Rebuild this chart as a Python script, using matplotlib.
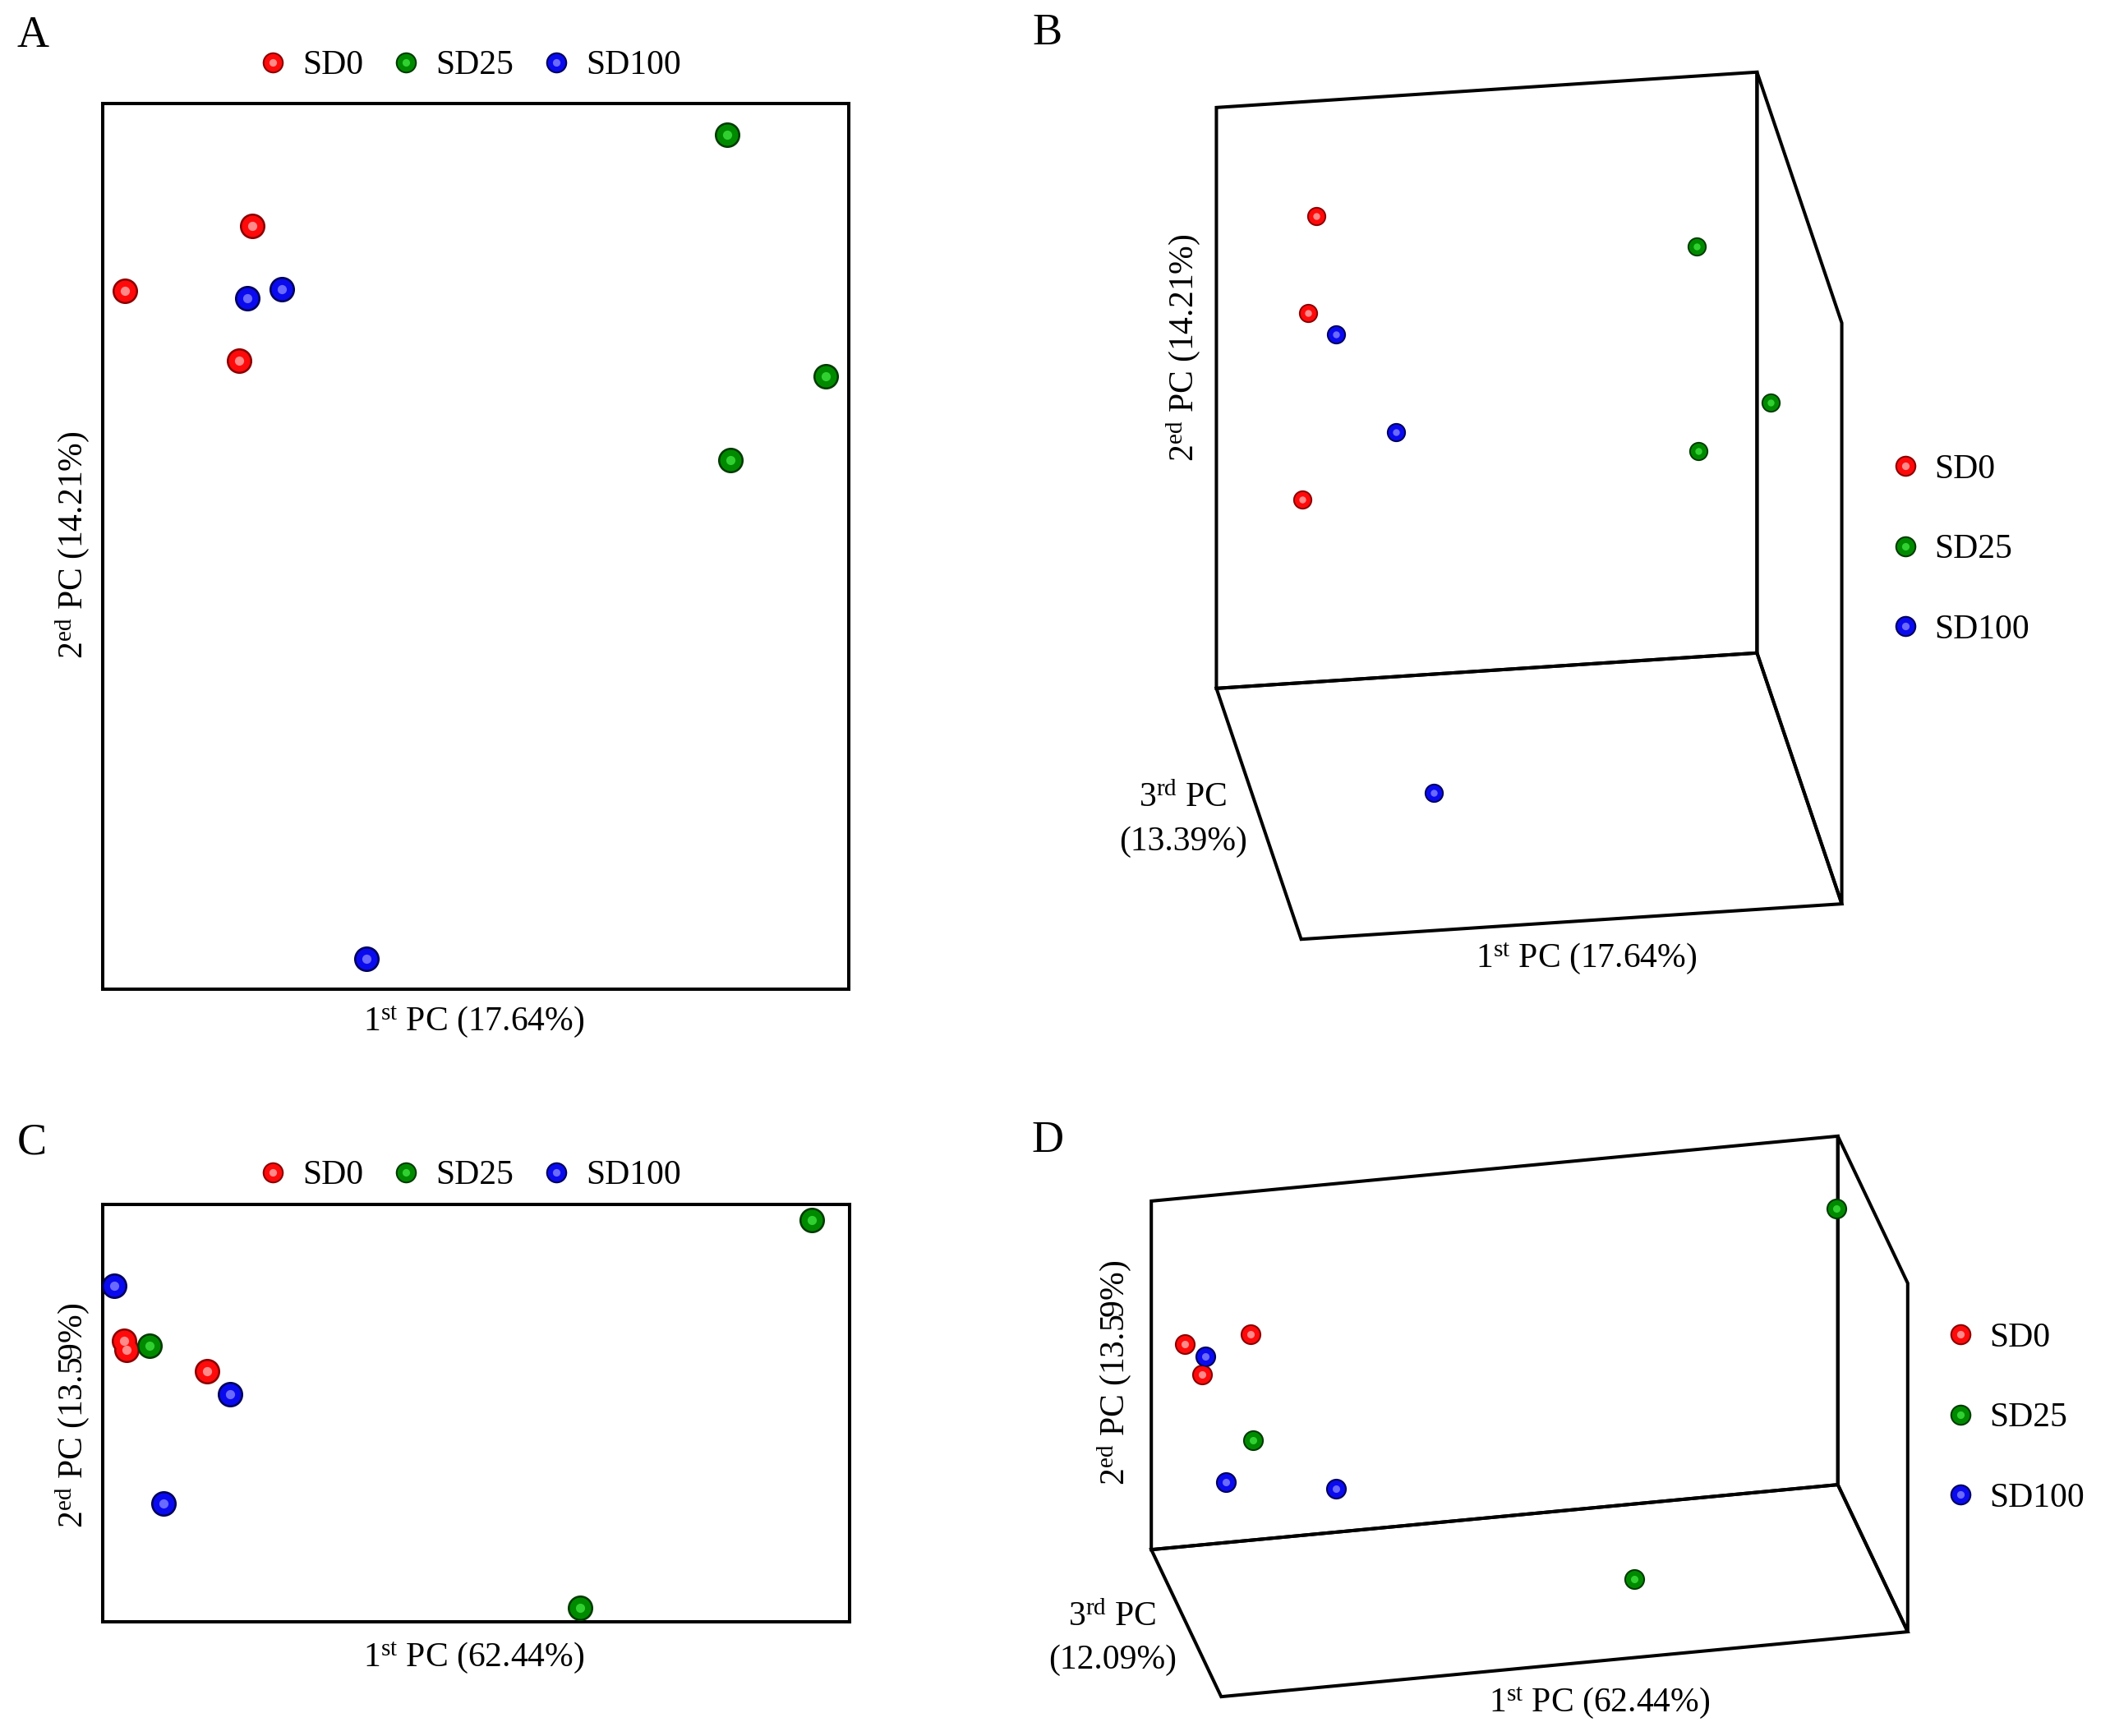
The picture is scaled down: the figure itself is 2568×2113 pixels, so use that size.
import numpy as np
import matplotlib
matplotlib.use("Agg")
import matplotlib.pyplot as plt
from matplotlib.lines import Line2D
from matplotlib.legend_handler import HandlerTuple

# ---------------- data ----------------
groups = ["SD0", "SD25", "SD100"]

# Panel A : 2D PCA (PC1 17.64 %, PC2 14.21 %) – order SD0 x3, SD25 x3, SD100 x3
a_pc1 = [-0.139, -0.276, -0.153, 0.370, 0.475, 0.373, -0.145, -0.108, -0.017]
a_pc2 = [0.176, 0.110, 0.039, 0.268, 0.023, -0.062, 0.102, 0.111, -0.569]

# Panel B : 3D PCA (PC1 17.64 %, PC2 14.21 %, PC3 13.39 %)
b_pc1 = [-0.171, -0.196, -0.185, 0.386, 0.470, 0.394, -0.161, -0.091, -0.047]
b_pc2 = [0.181, 0.072, -0.276, 0.116, -0.055, -0.222, 0.056, -0.043, -0.566]
b_pc3 = [0.28, 0.20, 0.32, 0.24, 0.08, 0.28, 0.16, 0.04, -0.04]

# Panel C : 2D PCA (PC1 62.44 %, PC2 13.59 %)
c_pc1 = [-0.171, -0.168, -0.060, -0.137, 0.440, 0.750, -0.184, -0.029, -0.118]
c_pc2 = [0.106, 0.086, 0.040, 0.095, -0.470, 0.366, 0.225, -0.009, -0.245]

# Panel D : 3D PCA (PC1 62.44 %, PC2 13.59 %, PC3 12.09 %)
d_pc1 = [-0.166, -0.066, -0.152, -0.082, 0.447, 0.796, -0.142, -0.132, 0.034]
d_pc2 = [0.082, 0.072, 0.039, -0.124, -0.473, 0.222, 0.065, -0.185, -0.249]
d_pc3 = [0.28, 0.32, 0.20, 0.16, -0.046, 0.384, 0.24, 0.08, 0.12]

sample_group = ["SD0"] * 3 + ["SD25"] * 3 + ["SD100"] * 3

# ---------------- style ----------------
plt.rcParams.update({
    "font.family": ["Liberation Serif", "DejaVu Serif"],
    "mathtext.fontset": "custom",
    "mathtext.rm": "Liberation Serif",
    "mathtext.it": "Liberation Serif:italic",
    "mathtext.bf": "Liberation Serif:bold",
})
FS = 15
LW = 1.45
palette = {
    "SD0": ("#ff0a0a", "#8a0000", "#ff8a8a"),
    "SD25": ("#008a00", "#003a00", "#30d030"),
    "SD100": ("#0a0aee", "#00005a", "#6a6aff"),
}

W, H, DPI = 2568, 2113, 200
fig = plt.figure(figsize=(W / DPI, H / DPI), dpi=DPI)
fig.patch.set_facecolor("white")


def fx(px):
    return px / W


def fy(py):
    return 1 - py / H


def ftext(px, py, s, **kw):
    kw.setdefault("fontsize", FS)
    kw.setdefault("ha", "center")
    kw.setdefault("va", "center")
    return fig.text(fx(px), fy(py), s, **kw)


def spheres(ax, xs, ys, zs, s):
    xs, ys = np.asarray(xs), np.asarray(ys)
    grp = np.asarray(sample_group)
    for g in groups:
        m = grp == g
        main, dark, light = palette[g]
        args = (xs[m], ys[m]) if zs is None else (xs[m], ys[m], np.asarray(zs)[m])
        extra = {} if zs is None else {"depthshade": False}
        for size, col, zo in ((s, dark, 3), (s * 0.70, main, 4), (s * 0.13, light, 5)):
            sc = ax.scatter(*args, s=size, c=col, linewidths=0, zorder=zo, **extra)
            sc.set_clip_on(False)


def legend_handles(ms):
    hs = []
    for g in groups:
        main, dark, light = palette[g]
        h = tuple(Line2D([], [], ls="none", marker="o", mec="none", mfc=c, ms=ms * f)
                  for c, f in ((dark, 1.0), (main, 0.84), (light, 0.36)))
        hs.append(h)
    return hs


def leg(ax, ncol, px, py, loc, **kw):
    l = ax.legend(legend_handles(9.2), groups, ncol=ncol, loc=loc,
                  bbox_to_anchor=(fx(px), fy(py)), bbox_transform=fig.transFigure,
                  frameon=False, fontsize=FS, handlelength=0.8, handletextpad=0.46,
                  borderpad=0, borderaxespad=0,
                  handler_map={tuple: HandlerTuple(ndivide=1, pad=0)}, **kw)
    return l


def box2d(rect_px, xlim, ylim):
    l, t, r, b = rect_px
    ax = fig.add_axes([fx(l), fy(b), (r - l) / W, (b - t) / H])
    ax.set_xlim(*xlim)
    ax.set_ylim(*ylim)
    ax.set_xticks([])
    ax.set_yticks([])
    for sp in ax.spines.values():
        sp.set_linewidth(LW)
        sp.set_color("black")
    return ax


# ---------------- Panel A ----------------
axA = box2d((124.5, 126, 1033, 1204), (-0.30, 0.50), (-0.60, 0.30))
spheres(axA, a_pc1, a_pc2, None, 125)
leg(axA, 3, 572, 80, "center", columnspacing=0.85)
ftext(577, 1244, r"1$^{\mathrm{st}}$ PC (17.64%)")
ftext(88, 663, r"2$^{\mathrm{ed}}$ PC (14.21%)", rotation=90)
ftext(40, 44, "A", fontsize=19.5)

# ---------------- Panel C ----------------
axC = box2d((124.5, 1466, 1033.5, 1974), (-0.20, 0.80), (-0.50, 0.40))
spheres(axC, c_pc1, c_pc2, None, 125)
leg(axC, 3, 572, 1431, "center", columnspacing=0.85)
ftext(577, 2018, r"1$^{\mathrm{st}}$ PC (62.44%)")
ftext(88, 1723, r"2$^{\mathrm{ed}}$ PC (13.59%)", rotation=90)
ftext(39, 1391, "C", fontsize=19.5)


# ---------------- 3D panels ----------------
def make3d(lims, elev, azim, aspect, target):
    ax = fig.add_axes([0.5, 0.1, 0.3, 0.3 * W / H], projection="3d")
    ax.set_proj_type("ortho")
    ax.set_xlim(*lims[0])
    ax.set_ylim(*lims[1])
    ax.set_zlim(*lims[2])
    ax.view_init(elev=elev, azim=azim)
    ax.set_box_aspect(aspect)
    ax.computed_zorder = False
    ax.grid(False)
    ax.set_xticks([])
    ax.set_yticks([])
    ax.set_zticks([])
    ax.patch.set_alpha(0)
    for axis in (ax.xaxis, ax.yaxis, ax.zaxis):
        pane = axis.pane
        pane.set_alpha(None)
        pane.set_facecolor("none")
        pane.set_edgecolor("black")
        pane.set_linewidth(LW)
        pane.set_closed(True)
        pane.set_joinstyle("miter")
        pane.set_clip_on(False)
        axis.line.set_color((0, 0, 0, 0))
    # fit projected cube to the target bounding box (layout only)
    cx, cy, cz = np.meshgrid(lims[0], lims[1], lims[2])
    pts = np.vstack([cx.ravel(), cy.ravel(), cz.ravel(), np.ones(8)])
    tl, tt, tr, tb = target
    tcx, tcy = (tl + tr) / 2, H - (tt + tb) / 2
    for _ in range(4):
        fig.canvas.draw()
        M = ax.get_proj()
        v = M @ pts
        p2 = np.column_stack([v[0] / v[3], v[1] / v[3]])
        d = ax.transData.transform(p2)
        cw = d[:, 0].max() - d[:, 0].min()
        ch = d[:, 1].max() - d[:, 1].min()
        ccx = (d[:, 0].max() + d[:, 0].min()) / 2
        ccy = (d[:, 1].max() + d[:, 1].min()) / 2
        s = 0.5 * ((tr - tl) / cw + (tb - tt) / ch)
        bb = ax.get_position()
        aw = bb.width * W
        acx, acy = (bb.x0 + bb.width / 2) * W, (bb.y0 + bb.height / 2) * H
        nw = aw * s
        ncx = tcx - (ccx - acx) * s
        ncy = tcy - (ccy - acy) * s
        ax.set_position([(ncx - nw / 2) / W, (ncy - nw / 2) / H, nw / W, nw / H])
    return ax


axB = make3d(((-0.30, 0.50), (-0.40, 0.40), (-0.60, 0.30)), 26.12, -98.46,
             (664, 700, 786), (1481, 87, 2241, 1144))
spheres(axB, b_pc1, b_pc3, b_pc2, 70)
leg(axB, 1, 2302, 669, "center left", labelspacing=1.42)
ftext(1931, 1167, r"1$^{\mathrm{st}}$ PC (17.64%)")
ftext(1440, 423, r"2$^{\mathrm{ed}}$ PC (14.21%)", rotation=90)
ftext(1440, 972, r"3$^{\mathrm{rd}}$ PC")
ftext(1440, 1025, "(13.39%)")
ftext(1275, 41, "B", fontsize=19.5)

axD = make3d(((-0.20, 0.80), (-0.40, 0.40), (-0.50, 0.40)), 26.5, -101.97,
             (854, 410, 474), (1401, 1383, 2322, 2065))
spheres(axD, d_pc1, d_pc3, d_pc2, 82)
leg(axD, 1, 2369, 1726, "center left", labelspacing=1.42)
ftext(1947, 2073, r"1$^{\mathrm{st}}$ PC (62.44%)")
ftext(1356, 1671, r"2$^{\mathrm{ed}}$ PC (13.59%)", rotation=90)
ftext(1354, 1969, r"3$^{\mathrm{rd}}$ PC")
ftext(1354, 2021, "(12.09%)")
ftext(1275, 1389, "D", fontsize=19.5)

fig.savefig("out.png", dpi=DPI, facecolor="white")
